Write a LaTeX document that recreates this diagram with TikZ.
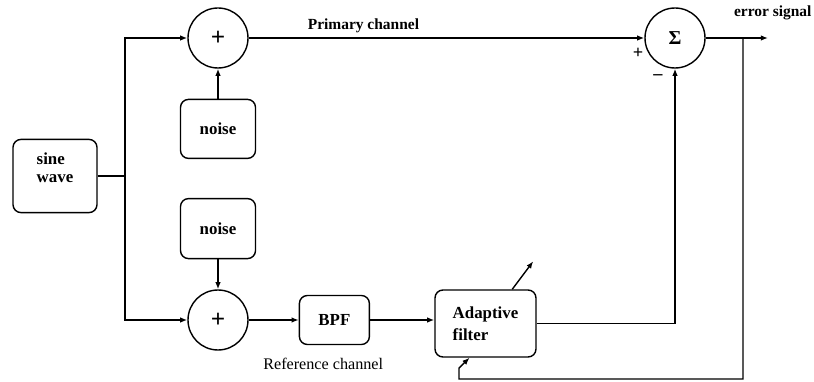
\documentclass[tikz,border=0pt]{standalone}
\usepackage{fontspec}
\setmainfont{Liberation Serif}
\usetikzlibrary{arrows.meta, positioning}

\begin{document}
\begin{tikzpicture}[>={Latex[length=1.8mm,width=1.4mm]}, line width=1pt, node distance=0.75cm,
    block/.style={draw, rounded corners=2mm, font=\bfseries\fontsize{12}{13}\selectfont},
    adder/.style={draw, circle, minimum size=1.5cm, inner sep=0pt, font=\bfseries\fontsize{18}{19}\selectfont},
    lbl/.style={font=\bfseries\fontsize{11}{12}\selectfont}]
    \useasboundingbox (0,0) rectangle (20.35,9.525);

    % Nodes
    \node[block, minimum width=2.1cm, minimum height=1.83cm, text depth=0.4cm, align=left] (sine) at (1.375,5.125) {sine\\wave};
    \node[adder] (add1) at (5.45,8.575) {+};
    \node[block, minimum width=1.875cm, minimum height=1.475cm, below=of add1] (noise1) {noise};
    \node[adder] (add2) at (5.45,1.525) {+};
    \node[block, minimum width=1.875cm, minimum height=1.5cm, above=of add2] (noise2) {noise};
    \node[block, minimum width=1.75cm, minimum height=1.225cm, right=1.25cm of add2] (bpf) {BPF};
    \node[block, minimum width=2.525cm, minimum height=1.675cm, align=left] (filt) at (12.1375,1.4375) {Adaptive\\[3pt]filter};
    \node[adder, font=\bfseries\fontsize{14}{15}\selectfont] (sum) at (16.875,8.575) {Σ};

    % Junctions and free ends
    \coordinate (split) at (3.125,5.125);
    \coordinate (out) at (19.2,8.575);
    \coordinate (tap) at (18.575,8.575);
    \coordinate (fbend) at (11.475,0.05);

    % Labels
    \node[lbl] (errlbl) at (19.32,9.2) {error signal};
    \node[lbl, font=\bfseries\fontsize{13}{14}\selectfont] (plus) at (15.95,8.2) {+};
    \node[lbl, font=\bfseries\fontsize{13}{14}\selectfont] (minus) at (16.45,7.6) {--};
    \node[font=\fontsize{11.5}{12}\selectfont, below=0.2cm of bpf, xshift=-0.28cm] (reflbl) {Reference channel};

    % Signal paths
    \draw (sine) -- (split);
    \draw[->] (split) |- (add1);
    \draw[->] (split) |- (add2);
    \draw[->] (noise1) -- (add1);
    \draw[->] (noise2) -- (add2);
    \draw[->] (add1) -- node[lbl, above, pos=0.29] {Primary channel} (sum);
    \draw[->] (sum) -- (out);
    \draw[->] (add2) -- (bpf);
    \draw[->] (bpf) -- (bpf -| filt.west);
    \draw[->] (filt.east) -| (sum);

    % Error fed back to the filter
    \draw[->] (tap) |- (fbend) -- ++(0,0.275) -- (filt.-115);
    \draw[->] (filt.52) -- ++(0.525,0.7);
\end{tikzpicture}
\end{document}
